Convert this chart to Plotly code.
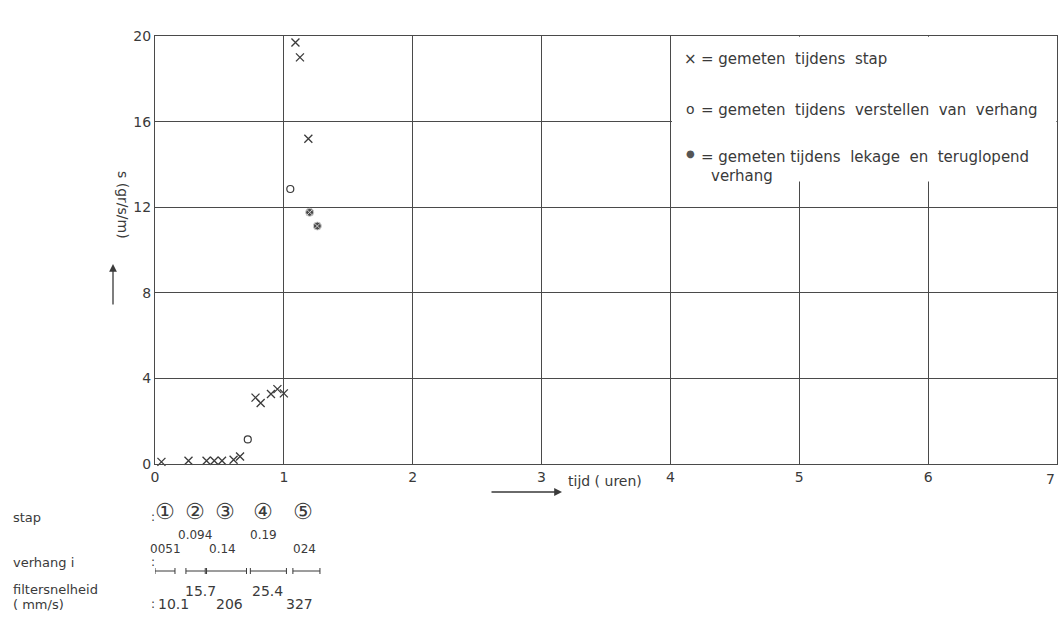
import plotly.graph_objects as go

# ---------------- data ----------------
stap_t = [0.05, 0.26, 0.40, 0.46, 0.52, 0.61, 0.66, 0.78, 0.82, 0.90, 0.95, 1.00, 1.09, 1.125, 1.19]
stap_s = [0.10, 0.15, 0.15, 0.15, 0.15, 0.20, 0.35, 3.10, 2.85, 3.27, 3.50, 3.30, 19.7, 19.0, 15.2]

verstel_t = [0.72, 1.05]
verstel_s = [1.15, 12.85]

lekage_t = [1.20, 1.26]
lekage_s = [11.76, 11.12]

x_ticks = [0, 1, 2, 3, 4, 5, 6, 7]
y_ticks = [0, 4, 8, 12, 16, 20]

legend_texts = [
    "= gemeten  tijdens  stap",
    "= gemeten  tijdens  verstellen  van  verhang",
    "= gemeten tijdens  lekage  en  teruglopend",
]

stap_labels = ["①", "②", "③", "④", "⑤"]
stap_time = [0.08, 0.31, 0.54, 0.84, 1.15]

verhang_labels = ["0051", "0.094", "0.14", "0.19", "024"]
verhang_time = [0.08, 0.31, 0.52, 0.84, 1.16]
verhang_start = [0.0, 0.24, 0.40, 0.74, 1.07]
verhang_end = [0.155, 0.39, 0.71, 1.02, 1.28]

filter_labels = ["10.1", "15.7", "206", "25.4", "327"]
filter_time = [0.14, 0.35, 0.58, 0.87, 1.12]

# ---------------- layout helpers ----------------
W, H = 1059, 625
L, R, T, B = 155, 1057, 36, 464   # plot area in window pixels
INK = "#3a3a3a"
FONT = "DejaVu Sans"


def pxx(p):
    return (p - L) / (R - L)


def pxy(p):
    return (B - p) / (B - T)


fig = go.Figure()

fig.add_trace(go.Scatter(
    x=stap_t, y=stap_s, mode="markers", name="stap",
    marker=dict(symbol="x-thin", size=8, line=dict(width=1.3, color=INK), color=INK),
    showlegend=False, cliponaxis=False))
fig.add_trace(go.Scatter(
    x=verstel_t, y=verstel_s, mode="markers", name="verstellen",
    marker=dict(symbol="circle-open", size=7, line=dict(width=1.2, color=INK), color=INK),
    showlegend=False))
fig.add_trace(go.Scatter(
    x=lekage_t, y=lekage_s, mode="markers", name="lekage",
    marker=dict(symbol="circle-x", size=8, color="#4a4a4a", line=dict(width=1, color="#cfcfcf")),
    showlegend=False))

shapes = []
# white legend box hiding the grid
shapes.append(dict(type="rect", xref="x", yref="y", x0=4.012, x1=6.995, y0=13.2, y1=19.97,
                   fillcolor="white", line=dict(width=0), layer="between"))

annotations = []
# last x tick label sits at the page edge
annotations.append(dict(x=x_ticks[-1], y=pxy(469), xref="x", yref="paper",
                        text=str(x_ticks[-1]), showarrow=False, xanchor="right", yanchor="top",
                        font=dict(size=14, color=INK, family=FONT)))
# legend
annotations.append(dict(x=pxx(690), y=pxy(48), xref="paper", yref="paper", text="×",
                        showarrow=False, font=dict(size=15, color=INK, family=FONT)))
annotations.append(dict(x=pxx(690), y=pxy(99), xref="paper", yref="paper", text="o",
                        showarrow=False, font=dict(size=14, color=INK, family=FONT)))
annotations.append(dict(x=pxx(690), y=pxy(146), xref="paper", yref="paper", text="●",
                        showarrow=False, font=dict(size=10, color="#555", family=FONT)))
for txt, yy in zip(legend_texts, [48, 99, 146]):
    annotations.append(dict(x=pxx(699), y=pxy(yy), xref="paper", yref="paper", text=txt,
                            xanchor="left", showarrow=False,
                            font=dict(size=15, color=INK, family=FONT)))
annotations.append(dict(x=pxx(709), y=pxy(165), xref="paper", yref="paper", text="verhang",
                        xanchor="left", showarrow=False,
                        font=dict(size=15, color=INK, family=FONT)))

# y axis title with arrow
annotations.append(dict(x=pxx(113), y=pxy(205), xref="paper", yref="paper", text="s (gr/s/m)",
                        textangle=90, showarrow=False, font=dict(size=14, color=INK, family=FONT)))
annotations.append(dict(x=pxx(113), y=pxy(264), xref="paper", yref="paper", text="",
                        showarrow=True, ax=0, ay=42, arrowhead=2, arrowsize=1.2,
                        arrowwidth=1.3, arrowcolor=INK))
# x axis title with arrow
annotations.append(dict(x=pxx(562), y=pxy(492), xref="paper", yref="paper", text="",
                        showarrow=True, ax=-72, ay=0, arrowhead=2, arrowsize=1.2,
                        arrowwidth=1.3, arrowcolor=INK))
annotations.append(dict(x=pxx(566), y=pxy(491), xref="paper", yref="paper", text="tijd ( uren)",
                        xanchor="left", showarrow=False, font=dict(size=14, color=INK, family=FONT)))

# bottom table labels
for txt, yy in [("stap", 527), ("verhang i", 572), ("filtersnelheid", 599), ("( mm/s)", 614)]:
    annotations.append(dict(x=pxx(11), y=pxy(yy), xref="paper", yref="paper", text=txt,
                            xanchor="left", showarrow=False,
                            font=dict(size=13, color=INK, family=FONT)))
for yy in [526, 571, 613]:
    annotations.append(dict(x=pxx(149), y=pxy(yy), xref="paper", yref="paper", text=":",
                            showarrow=False, font=dict(size=12, color=INK, family=FONT)))

for lab, t in zip(stap_labels, stap_time):
    annotations.append(dict(x=t, y=pxy(526), xref="x", yref="paper", text=lab,
                            showarrow=False, font=dict(size=22, color=INK, family=FONT)))

for i, (lab, t) in enumerate(zip(verhang_labels, verhang_time)):
    yy = 544 if i % 2 == 1 else 558
    annotations.append(dict(x=t, y=pxy(yy), xref="x", yref="paper", text=lab,
                            showarrow=False, font=dict(size=12, color=INK, family=FONT)))

for t0, t1 in zip(verhang_start, verhang_end):
    shapes.append(dict(type="line", xref="x", yref="paper", x0=t0, x1=t1,
                       y0=pxy(571), y1=pxy(571), line=dict(color=INK, width=1)))
    for te in (t0, t1):
        shapes.append(dict(type="line", xref="x", yref="paper", x0=te, x1=te,
                           y0=pxy(568), y1=pxy(574), line=dict(color=INK, width=1)))

for i, (lab, t) in enumerate(zip(filter_labels, filter_time)):
    yy = 601 if i % 2 == 1 else 614
    annotations.append(dict(x=t, y=pxy(yy), xref="x", yref="paper", text=lab,
                            showarrow=False, font=dict(size=14, color=INK, family=FONT)))

fig.update_layout(
    width=W, height=H,
    margin=dict(l=L, r=W - R, t=T, b=H - B),
    paper_bgcolor="white", plot_bgcolor="white",
    font=dict(family=FONT, color=INK, size=13),
    shapes=shapes, annotations=annotations,
    xaxis=dict(range=[0, 7], tickvals=x_ticks[:-1], ticktext=[str(v) for v in x_ticks[:-1]],
               showgrid=True, gridcolor="#4a4a4a", gridwidth=1, zeroline=False,
               showline=True, linecolor="#4a4a4a", linewidth=1, mirror=True,
               ticks="", tickfont=dict(size=14, color=INK, family=FONT)),
    yaxis=dict(range=[0, 20], tickvals=y_ticks, ticktext=[str(v) for v in y_ticks],
               showgrid=True, gridcolor="#4a4a4a", gridwidth=1, zeroline=False,
               showline=True, linecolor="#4a4a4a", linewidth=1, mirror=True,
               ticks="", tickfont=dict(size=14, color=INK, family=FONT)),
)

fig.write_html(
    "out.html",
    config={"displayModeBar": False},
    post_script="document.body.style.margin='0';document.body.style.overflow='hidden';",
)
